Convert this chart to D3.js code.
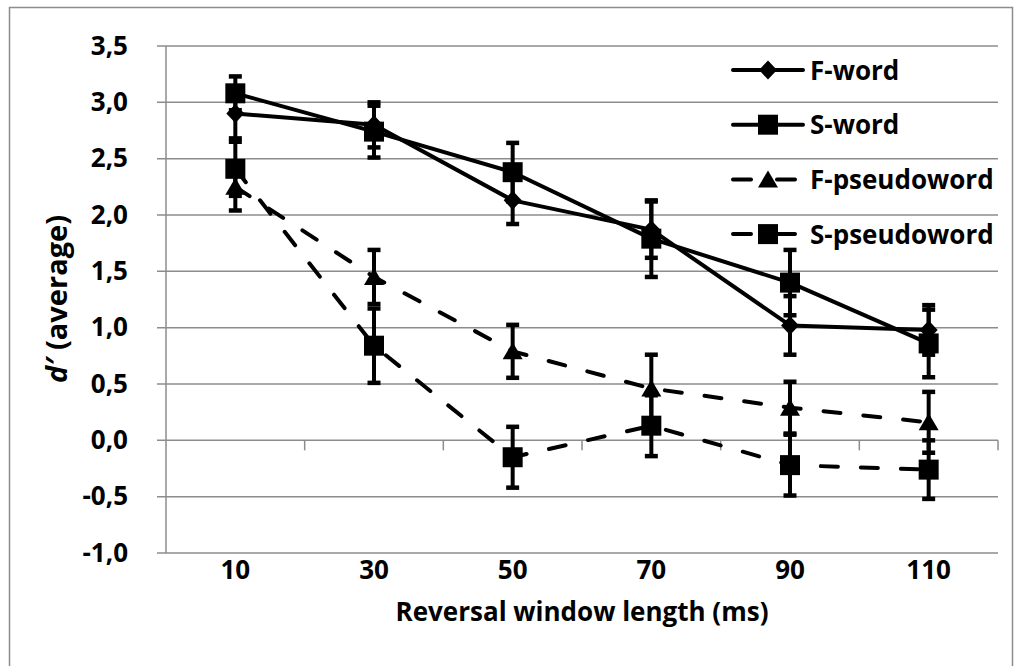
<!DOCTYPE html>
<html>
<head>
<meta charset="utf-8">
<script src="https://cdn.jsdelivr.net/npm/d3@7"></script>
<style>
	body { margin: 0; background: #fff; }
	svg { display: block; }
	text { font-family: 'Open Sans', sans-serif; font-weight: 700; fill: #000; }
</style>
</head>
<body>
<div class="chart"></div>
<script>
const categories = ['10', '30', '50', '70', '90', '110']
const yTickValues = [-1, -0.5, 0, 0.5, 1, 1.5, 2, 2.5, 3, 3.5]

const fWord = [2.90, 2.80, 2.13, 1.87, 1.02, 0.98]
const fWordErr = [0.22, 0.20, 0.21, 0.25, 0.26, 0.22]
const sWord = [3.08, 2.74, 2.38, 1.79, 1.40, 0.86]
const sWordErr = [0.15, 0.23, 0.26, 0.34, 0.29, 0.30]
const fPseudo = [2.25, 1.45, 0.79, 0.46, 0.29, 0.16]
const fPseudoErr = [0.21, 0.24, 0.235, 0.30, 0.23, 0.27]
const sPseudo = [2.41, 0.84, -0.15, 0.13, -0.22, -0.26]
const sPseudoErr = [0.24, 0.33, 0.27, 0.27, 0.27, 0.26]

const seriesNames = ['F-word', 'S-word', 'F-pseudoword', 'S-pseudoword']
const xTitle = 'Reversal window length (ms)'

const W = 1021
const H = 666
const plot = { left: 166, right: 998, top: 46, bottom: 553 }
const FONT_SIZE = 26
const GRID = '#8c8c8c'

const series = [
	{ name: seriesNames[0], values: fWord, err: fWordErr, marker: 'diamond', dashed: false },
	{ name: seriesNames[1], values: sWord, err: sWordErr, marker: 'square', dashed: false },
	{ name: seriesNames[2], values: fPseudo, err: fPseudoErr, marker: 'triangle', dashed: true },
	{ name: seriesNames[3], values: sPseudo, err: sPseudoErr, marker: 'square', dashed: true }
]

const locale = d3.formatLocale({ decimal: ',', thousands: '.', grouping: [3], currency: ['', ''], minus: '-' })
const fmt = locale.format('.1f')

const scaleX = d3.scaleBand().domain(categories).range([plot.left, plot.right]).padding(0)
const scaleY = d3.scaleLinear().domain([-1, 3.5]).range([plot.bottom, plot.top])

function translate(x, y) {
	return `translate(${x}, ${y})`
}

function markerPath(type) {
	if (type === 'diamond') return 'M0,-9.5L9,0L0,9.5L-9,0Z'
	if (type === 'triangle') return 'M0,-9L10,8L-10,8Z'
	return 'M-10,-10H10V10H-10Z'
}

const cx = d => scaleX(d) + scaleX.bandwidth() / 2

const svg = d3.select('.chart').append('svg')
	.attr('width', W)
	.attr('height', H)

// outer chart border
svg.append('rect')
	.attr('x', 9.5).attr('y', 7.5)
	.attr('width', 1003).attr('height', 700)
	.attr('fill', 'none')
	.attr('stroke', GRID)
	.attr('stroke-width', 1.5)

// grid
const grid = svg.append('g').attr('class', 'grid')
grid.selectAll('line').data(yTickValues)
	.enter().append('line')
	.attr('x1', plot.left - 9).attr('x2', plot.right)
	.attr('y1', d => scaleY(d)).attr('y2', d => scaleY(d))
	.attr('stroke', GRID).attr('stroke-width', 1.5)

grid.append('line')
	.attr('x1', plot.left).attr('x2', plot.left)
	.attr('y1', plot.top).attr('y2', plot.bottom)
	.attr('stroke', GRID).attr('stroke-width', 1.5)

// category ticks on the zero line
grid.selectAll('.xtick').data(categories)
	.enter().append('line')
	.attr('class', 'xtick')
	.attr('x1', d => scaleX(d) + scaleX.bandwidth()).attr('x2', d => scaleX(d) + scaleX.bandwidth())
	.attr('y1', scaleY(0)).attr('y2', scaleY(0) + 10)
	.attr('stroke', GRID).attr('stroke-width', 1.5)

// y labels
svg.append('g').selectAll('text').data(yTickValues)
	.enter().append('text')
	.attr('x', 128)
	.attr('y', d => scaleY(d) + 8.5)
	.attr('text-anchor', 'end')
	.style('font-size', FONT_SIZE + 'px')
	.text(d => fmt(d))

// x labels
svg.append('g').selectAll('text').data(categories)
	.enter().append('text')
	.attr('x', d => cx(d))
	.attr('y', 579)
	.attr('text-anchor', 'middle')
	.style('font-size', FONT_SIZE + 'px')
	.text(d => d)

svg.append('text')
	.attr('x', (plot.left + plot.right) / 2)
	.attr('y', 621)
	.attr('text-anchor', 'middle')
	.style('font-size', FONT_SIZE + 'px')
	.text(xTitle)

const yTitle = svg.append('text')
	.attr('transform', translate(67, 299) + ' rotate(-90)')
	.attr('text-anchor', 'middle')
	.style('font-size', '29px')
yTitle.append('tspan').style('font-style', 'italic').text('d\u2032')
yTitle.append('tspan').text(' (average)')

// series
const line = d3.line()
	.x((d, i) => cx(categories[i]))
	.y(d => scaleY(d))

const gSeries = svg.append('g').attr('class', 'series')

series.forEach(s => {
	gSeries.append('path')
		.datum(s.values)
		.attr('d', line)
		.attr('fill', 'none')
		.attr('stroke', '#000')
		.attr('stroke-width', 4)
		.attr('stroke-linejoin', 'round')
		.attr('stroke-linecap', 'round')
		.attr('stroke-dasharray', s.dashed ? '17 23' : null)
})

series.forEach(s => {
	const g = gSeries.append('g')
	const eb = g.selectAll('.eb').data(s.values)
		.enter().append('g')
		.attr('class', 'eb')
		.attr('transform', (d, i) => translate(cx(categories[i]), 0))
	eb.append('line')
		.attr('y1', (d, i) => scaleY(d + s.err[i]))
		.attr('y2', (d, i) => scaleY(d - s.err[i]))
		.attr('stroke', '#000').attr('stroke-width', 4)
	eb.append('line')
		.attr('x1', -6.5).attr('x2', 6.5)
		.attr('y1', (d, i) => scaleY(d + s.err[i])).attr('y2', (d, i) => scaleY(d + s.err[i]))
		.attr('stroke', '#000').attr('stroke-width', 4.5)
	eb.append('line')
		.attr('x1', -6.5).attr('x2', 6.5)
		.attr('y1', (d, i) => scaleY(d - s.err[i])).attr('y2', (d, i) => scaleY(d - s.err[i]))
		.attr('stroke', '#000').attr('stroke-width', 4.5)

	g.selectAll('.marker').data(s.values)
		.enter().append('path')
		.attr('class', 'marker')
		.attr('d', markerPath(s.marker))
		.attr('transform', (d, i) => translate(cx(categories[i]), scaleY(d)))
		.attr('fill', '#000')
})

// legend
const legend = svg.append('g').attr('class', 'legend')
const item = legend.selectAll('g').data(series)
	.enter().append('g')
	.attr('transform', (d, i) => translate(733, 70 + i * 54.7))

item.append('line')
	.attr('x1', 0).attr('x2', 70)
	.attr('stroke', '#000').attr('stroke-width', 4)
	.attr('stroke-linecap', 'round')
	.attr('stroke-dasharray', d => d.dashed ? '18 26' : null)

item.append('path')
	.attr('d', d => markerPath(d.marker))
	.attr('transform', translate(35, 0))

item.append('text')
	.attr('x', 77)
	.attr('y', 9.5)
	.style('font-size', FONT_SIZE + 'px')
	.text(d => d.name)
</script>
</body>
</html>
